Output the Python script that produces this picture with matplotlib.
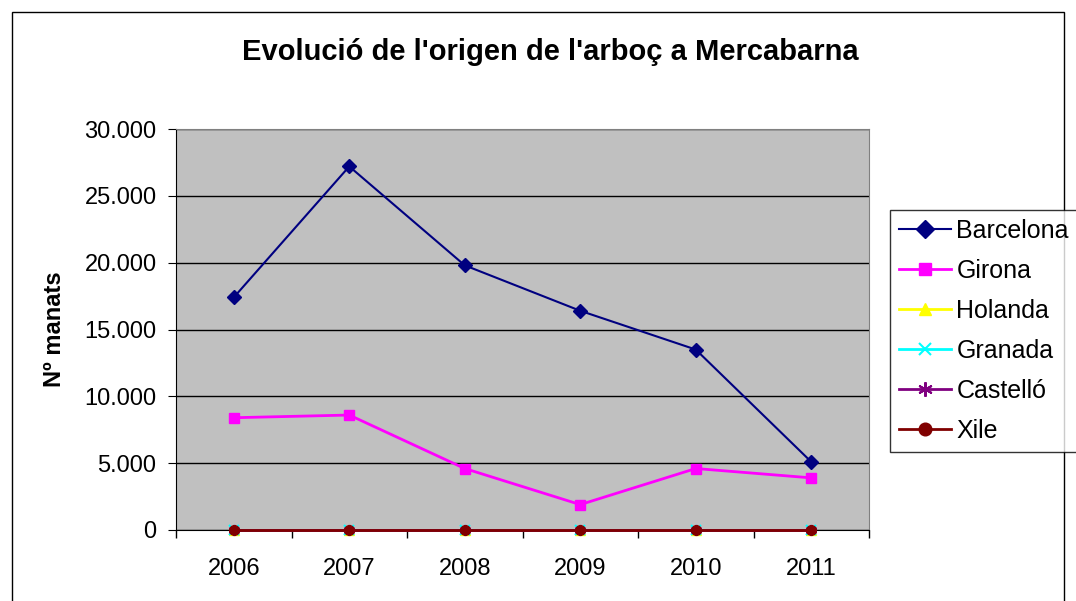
import matplotlib.pyplot as plt
from matplotlib.ticker import FuncFormatter
from matplotlib.patches import Rectangle

# dades
years = ['2006', '2007', '2008', '2009', '2010', '2011']
barcelona = [17400, 27200, 19800, 16400, 13500, 5100]
girona = [8400, 8600, 4600, 1900, 4600, 3900]
holanda = [0, 0, 0, 0, 0, 0]
granada = [0, 0, 0, 0, 0, 0]
castello = [0, 0, 0, 0, 0, 0]
xile = [0, 0, 0, 0, 0, 0]

plt.rcParams['font.family'] = ['Liberation Sans', 'DejaVu Sans']

fig = plt.figure(figsize=(10.76, 6.01), dpi=100)
W, H = 1076, 601
ax = fig.add_axes([176 / W, 1 - 530 / H, (869 - 176) / W, (530 - 129) / H])
ax.set_facecolor('#C0C0C0')

# marc exterior del grafic
fig.patches.append(Rectangle((12 / W, -0.1), (1064 - 12) / W, 1 - 12 / H + 0.1,
                             transform=fig.transFigure, fill=False,
                             edgecolor='black', linewidth=1))

x = range(len(years))
ax.plot(x, holanda, color='#FFFF00', marker='^', markersize=7, lw=2, label='Holanda', zorder=3, clip_on=False)
ax.plot(x, granada, color='#00FFFF', marker='x', markersize=7, mew=1.5, lw=2, label='Granada', zorder=3, clip_on=False)
ax.plot(x, castello, color='#800080', marker=(6, 2, 0), markersize=8, mew=1.5, lw=2, label='Castelló', zorder=3, clip_on=False)
ax.plot(x, xile, color='#800000', marker='o', markersize=7, lw=2, label='Xile', zorder=4, clip_on=False)
ax.plot(x, girona, color='#FF00FF', marker='s', markersize=7, lw=2, label='Girona', zorder=5)
ax.plot(x, barcelona, color='#000080', marker='D', markersize=7, lw=1.5, label='Barcelona', zorder=6)

ax.set_xlim(-0.5, 5.5)
ax.set_ylim(0, 30000)
ax.set_yticks(range(0, 30001, 5000))
ax.yaxis.set_major_formatter(FuncFormatter(lambda v, p: f'{int(v):,}'.replace(',', '.')))
ax.set_xticks(x)
ax.set_xticklabels(years)
ax.set_xticks([i - 0.5 for i in range(len(years) + 1)], minor=True)
ax.tick_params(axis='x', which='major', length=0, pad=20, labelsize=17)
ax.tick_params(axis='x', which='minor', length=6, direction='out', width=1)
ax.tick_params(axis='y', length=6, direction='out', labelsize=17, pad=8)
ax.grid(axis='y', color='black', lw=1)
ax.set_axisbelow(True)

for s in ['top', 'right']:
    ax.spines[s].set_color('#808080')
ax.spines['left'].set_color('black')
ax.spines['bottom'].set_color('black')

ax.set_ylabel('Nº manats', fontsize=17, fontweight='bold', labelpad=13)
fig.text(550 / W, 1 - 52 / H, "Evolució de l'origen de l'arboç a Mercabarna",
         ha='center', va='center', fontsize=21, fontweight='bold')

handles, labels = ax.get_legend_handles_labels()
order = ['Barcelona', 'Girona', 'Holanda', 'Granada', 'Castelló', 'Xile']
hl = [handles[labels.index(n)] for n in order]
leg = fig.legend(hl, order, loc='upper left', bbox_to_anchor=(890 / W, 1 - 210 / H),
                 fontsize=18, frameon=True, fancybox=False, edgecolor='black',
                 borderpad=0.35, labelspacing=0.64, handlelength=2.1, handletextpad=0.2,
                 borderaxespad=0, markerscale=1.3)
leg.get_frame().set_linewidth(1)

fig.savefig('out.png', dpi=100)
